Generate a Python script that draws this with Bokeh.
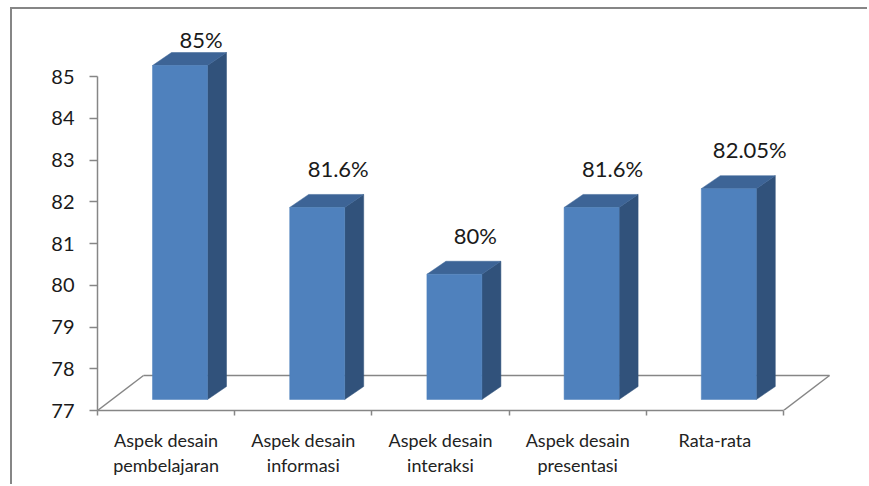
from bokeh.plotting import figure
from bokeh.models import Range1d, FixedTicker, ColumnDataSource
from bokeh.core.properties import value
from bokeh.embed import file_html
from bokeh.resources import INLINE

# --- data -------------------------------------------------------------
categories = [
    "Aspek desain\npembelajaran",
    "Aspek desain\ninformasi",
    "Aspek desain\ninteraksi",
    "Aspek desain\npresentasi",
    "Rata-rata",
]
scores = [85, 81.6, 80, 81.6, 82.05]
score_labels = ["85%", "81.6%", "80%", "81.6%", "82.05%"]
y_ticks = [77, 78, 79, 80, 81, 82, 83, 84, 85]

# --- geometry helpers (pixel sizes expressed in data units) ------------
Y_BASE = y_ticks[0]
Y_TOP = y_ticks[-1]
CAT_PX = 137.2      # pixels per category slot
UNIT_PX = 41.75     # pixels per score unit
FRAME_W = 762
FRAME_H = 390


def px_x(n):
    return n / CAT_PX


def px_y(n):
    return n / UNIT_PX


BAR_OFFSET = px_x(55)     # front face starts this far into its slot
BAR_W = px_x(55)
DEPTH_X = px_x(19)        # 3-D depth of each column
DEPTH_Y = px_y(13)
LIFT = px_y(11)           # columns stand a little behind the front edge
FLOOR_DX = px_x(46)
FLOOR_DY = px_y(35)
LABEL_GAP = px_y(39)
LABEL_CEIL = Y_BASE + px_y(371)

AXIS_GREY = "#868686"
FRONT = "#4f81bd"
TOP = "#3d6496"
SIDE = "#31527b"
FONT = "Lato"

n = len(scores)

p = figure(
    width=857, height=477,
    x_range=Range1d(0, FRAME_W / CAT_PX),
    y_range=Range1d(Y_BASE, Y_BASE + FRAME_H / UNIT_PX),
    output_backend="svg", toolbar_location=None,
    min_border_left=85, min_border_right=10,
    min_border_top=11, min_border_bottom=76,
)
p.styles = {
    "margin-left": "10px",
    "margin-top": "7px",
    "border-left": f"2px solid {AXIS_GREY}",
    "border-top": f"2px solid {AXIS_GREY}",
}
p.outline_line_color = None
p.grid.visible = False
p.background_fill_color = "white"
p.border_fill_color = "white"

# --- floor of the 3-D plot area ----------------------------------------
floor_back_y = Y_BASE + FLOOR_DY
p.line([0, FLOOR_DX], [Y_BASE, floor_back_y], line_color=AXIS_GREY, line_width=1.5)
p.line([FLOOR_DX, n + FLOOR_DX], [floor_back_y, floor_back_y],
       line_color=AXIS_GREY, line_width=1.5)
p.line([n, n + FLOOR_DX], [Y_BASE, floor_back_y], line_color=AXIS_GREY, line_width=1.5)

# --- columns -----------------------------------------------------------
left = [i + BAR_OFFSET for i in range(n)]
right = [l + BAR_W for l in left]
bottom = [Y_BASE + LIFT] * n
top = [v + LIFT for v in scores]

side_xs = [[r, r + DEPTH_X, r + DEPTH_X, r] for r in right]
side_ys = [[b, b + DEPTH_Y, t + DEPTH_Y, t] for b, t in zip(bottom, top)]
top_xs = [[l, l + DEPTH_X, r + DEPTH_X, r] for l, r in zip(left, right)]
top_ys = [[t, t + DEPTH_Y, t + DEPTH_Y, t] for t in top]

p.patches(side_xs, side_ys, fill_color=SIDE, line_color=SIDE, line_width=0.5)
p.patches(top_xs, top_ys, fill_color=TOP, line_color=TOP, line_width=0.5)
p.quad(left=left, right=right, bottom=bottom, top=top,
       fill_color=FRONT, line_color=FRONT, line_width=0.5)

# --- value labels ------------------------------------------------------
label_src = ColumnDataSource(dict(
    x=[l + BAR_W / 2 + px_x(21) for l in left],
    y=[min(t + LABEL_GAP, LABEL_CEIL) for t in top],
    text=score_labels,
))
p.text(x="x", y="y", text="text", source=label_src,
       text_align="center", text_baseline="alphabetic",
       text_font=value(FONT), text_font_size="22px", text_color="#1a1a1a")

# --- axes --------------------------------------------------------------
xa = p.xaxis[0]
xa.ticker = FixedTicker(ticks=[i + 0.5 for i in range(n)],
                        minor_ticks=list(range(n + 1)))
xa.bounds = (0, n)
xa.major_label_overrides = {i + 0.5: c for i, c in enumerate(categories)}
xa.major_tick_line_color = None
xa.major_tick_out = 0
xa.minor_tick_line_color = AXIS_GREY
xa.minor_tick_line_width = 1.5
xa.minor_tick_out = 5
xa.minor_tick_in = 0
xa.axis_line_color = AXIS_GREY
xa.axis_line_width = 1.5
xa.major_label_standoff = 13
xa.major_label_text_font = FONT
xa.major_label_text_font_size = "18px"
xa.major_label_text_line_height = 1.15
xa.major_label_text_color = "#222222"

ya = p.yaxis[0]
ya.ticker = FixedTicker(ticks=y_ticks, minor_ticks=[])
ya.bounds = (Y_BASE, Y_TOP)
ya.axis_line_color = AXIS_GREY
ya.axis_line_width = 1.5
ya.major_tick_line_color = AXIS_GREY
ya.major_tick_line_width = 1.5
ya.major_tick_out = 8
ya.major_tick_in = 0
ya.minor_tick_line_color = None
ya.major_label_standoff = 15
ya.major_label_text_font = FONT
ya.major_label_text_font_size = "20px"
ya.major_label_text_color = "#1a1a1a"

open("out.html", "w").write(file_html(p, INLINE))
